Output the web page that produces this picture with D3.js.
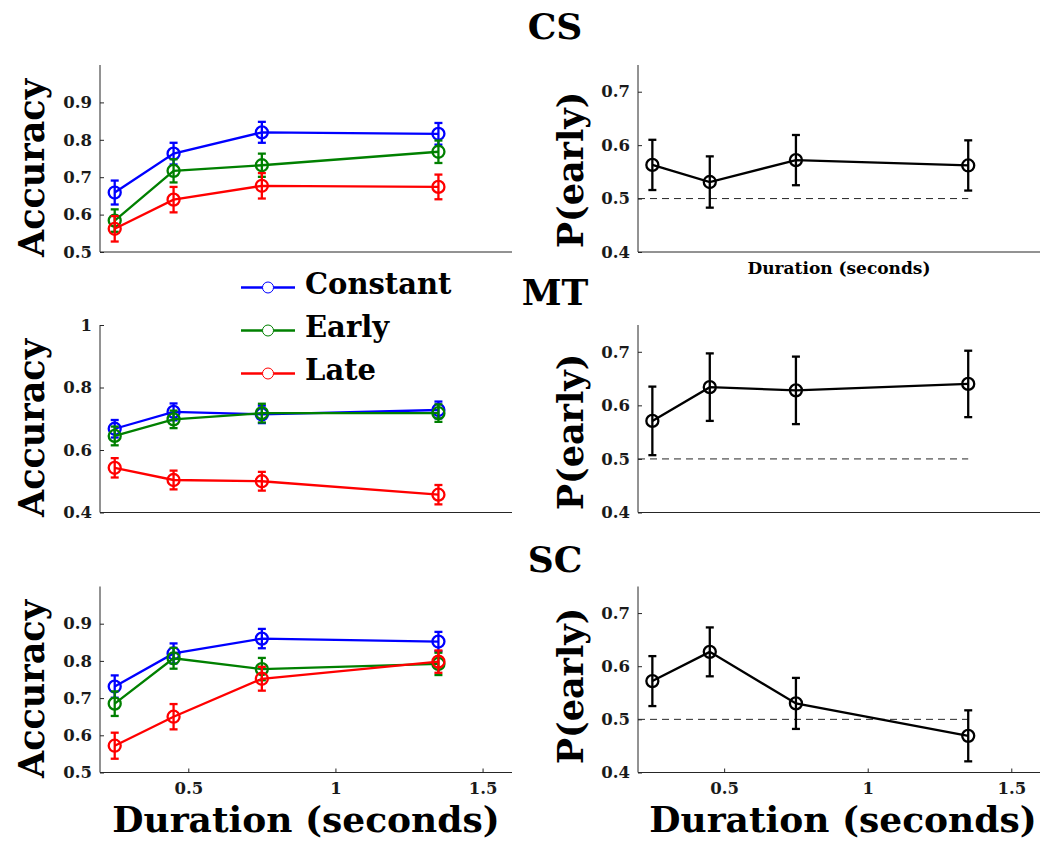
<!DOCTYPE html>
<html>
<head>
<meta charset="utf-8">
<script src="https://cdn.jsdelivr.net/npm/d3@7"></script>
<style>
  body { margin: 0; background: #fff; }
  svg { display: block; font-family: "DejaVu Serif", serif; font-weight: bold; }
</style>
</head>
<body>
<svg id="fig" width="1056" height="843"></svg>
<script>
// durations on the x axis (seconds)
const durations = [0.25, 0.45, 0.75, 1.35];
const conditions = ['Constant', 'Early', 'Late'];
const colors = ['#0000ff', '#008000', '#ff0000'];
const groups = ['CS', 'MT', 'SC'];

// accuracy, one row per condition (Constant, Early, Late)
const csAccuracy = [[0.659, 0.763, 0.820, 0.816], [0.584, 0.717, 0.732, 0.768], [0.562, 0.640, 0.677, 0.674]];
const csAccuracyErr = [[0.032, 0.029, 0.028, 0.029], [0.030, 0.031, 0.031, 0.030], [0.034, 0.034, 0.034, 0.033]];
const mtAccuracy = [[0.668, 0.722, 0.714, 0.728], [0.645, 0.698, 0.718, 0.718], [0.543, 0.504, 0.500, 0.457]];
const mtAccuracyErr = [[0.028, 0.027, 0.028, 0.027], [0.030, 0.028, 0.030, 0.028], [0.031, 0.030, 0.030, 0.031]];
const scAccuracy = [[0.731, 0.820, 0.860, 0.852], [0.685, 0.807, 0.778, 0.792], [0.572, 0.650, 0.752, 0.798]];
const scAccuracyErr = [[0.030, 0.027, 0.026, 0.026], [0.033, 0.028, 0.030, 0.030], [0.035, 0.034, 0.032, 0.030]];

// probability of choosing "early"
const csPEarly = [0.563, 0.531, 0.572, 0.562];
const csPEarlyErr = [0.047, 0.048, 0.047, 0.047];
const mtPEarly = [0.571, 0.634, 0.628, 0.640];
const mtPEarlyErr = [0.064, 0.063, 0.063, 0.062];
const scPEarly = [0.572, 0.627, 0.530, 0.469];
const scPEarlyErr = [0.047, 0.046, 0.048, 0.048];

// tick values
const xTicks = [0.5, 1, 1.5];
const accTicks = [0.5, 0.6, 0.7, 0.8, 0.9];
const accTicksMT = [0.4, 0.6, 0.8, 1];
const pTicks = [0.4, 0.5, 0.6, 0.7];

const svg = d3.select('#fig');
const axisColor = '#262626';

class Panel {
    constructor(config){
        this.config = config;
        this.init();
    }

    init(){
        let self = this;
        const c = self.config;

        self.xscale = d3.scaleLinear().domain([0.2, 1.6]).range([c.left, c.right]);
        self.yscale = d3.scaleLinear().domain(c.ydomain).range([c.bottom, c.top]);

        self.g = svg.append('g');

        // y axis, ticks pointing inward
        const yaxis = d3.axisLeft(self.yscale)
            .tickValues(c.yticks)
            .tickSize(-4)
            .tickPadding(8)
            .tickFormat(d => d === 1 ? '1' : d3.format('.1f')(d));
        const yg = self.g.append('g')
            .attr('transform', `translate(${c.left},0)`)
            .call(yaxis);
        yg.select('.domain').attr('d', `M0,${c.top}V${c.bottom}`);

        // x axis
        const xaxis = d3.axisBottom(self.xscale)
            .tickValues(c.showX ? xTicks : [])
            .tickSize(-4)
            .tickPadding(10)
            .tickFormat(d3.format('~g'));
        const xg = self.g.append('g')
            .attr('transform', `translate(0,${c.bottom})`)
            .call(xaxis);
        xg.select('.domain').attr('d', `M${c.left},0H${c.right}`);

        self.g.selectAll('.domain, .tick line')
            .attr('stroke', axisColor).attr('stroke-width', 1);
        self.g.selectAll('.tick text')
            .attr('fill', '#1a1a1a')
            .style('font-size', '16.5px')
            .style('font-family', '"DejaVu Serif", serif')
            .style('font-weight', 'bold');

        // y label
        self.g.append('text')
            .attr('transform', `translate(${c.ylabelX},${c.ylabelY}) rotate(-90)`)
            .attr('text-anchor', 'middle')
            .style('font-size', '35px')
            .text(c.ylabel);

        if (c.refLine !== undefined) {
            self.g.append('line')
                .attr('x1', self.xscale(0.2))
                .attr('x2', self.xscale(d3.max(durations)))
                .attr('y1', self.yscale(c.refLine))
                .attr('y2', self.yscale(c.refLine))
                .attr('stroke', axisColor)
                .attr('stroke-width', 1)
                .attr('stroke-dasharray', '7,5');
        }
    }

    series(values, errs, color){
        let self = this;
        const pts = durations.map((d, i) => ({x: d, y: values[i], e: errs[i]}));
        const g = self.g.append('g')
            .attr('stroke', color)
            .attr('fill', 'none')
            .attr('stroke-width', 2.3);

        g.append('path')
            .datum(pts)
            .attr('d', d3.line().x(d => self.xscale(d.x)).y(d => self.yscale(d.y)));

        const cap = 4;
        const eb = g.selectAll('g.err').data(pts).enter().append('g');
        eb.append('line')
            .attr('x1', d => self.xscale(d.x)).attr('x2', d => self.xscale(d.x))
            .attr('y1', d => self.yscale(d.y - d.e)).attr('y2', d => self.yscale(d.y + d.e));
        eb.append('line')
            .attr('x1', d => self.xscale(d.x) - cap).attr('x2', d => self.xscale(d.x) + cap)
            .attr('y1', d => self.yscale(d.y + d.e)).attr('y2', d => self.yscale(d.y + d.e));
        eb.append('line')
            .attr('x1', d => self.xscale(d.x) - cap).attr('x2', d => self.xscale(d.x) + cap)
            .attr('y1', d => self.yscale(d.y - d.e)).attr('y2', d => self.yscale(d.y - d.e));
        eb.append('circle')
            .attr('cx', d => self.xscale(d.x))
            .attr('cy', d => self.yscale(d.y))
            .attr('r', 6);
    }
}

const rows = [
    {top: 65, bottom: 252, acc: csAccuracy, accErr: csAccuracyErr, accDomain: [0.5, 1], accTicks: accTicks,
     p: csPEarly, pErr: csPEarlyErr, titleY: 39, accLabelY: 168, pLabelY: 170},
    {top: 325, bottom: 512.5, acc: mtAccuracy, accErr: mtAccuracyErr, accDomain: [0.4, 1], accTicks: accTicksMT,
     p: mtPEarly, pErr: mtPEarlyErr, titleY: 305, accLabelY: 428, pLabelY: 432},
    {top: 586.5, bottom: 772.5, acc: scAccuracy, accErr: scAccuracyErr, accDomain: [0.5, 1], accTicks: accTicks,
     p: scPEarly, pErr: scPEarlyErr, titleY: 572, accLabelY: 689, pLabelY: 686}
];

rows.forEach((r, ri) => {
    const last = ri === rows.length - 1;

    const left = new Panel({
        left: 100, right: 512, top: r.top, bottom: r.bottom,
        ydomain: r.accDomain, yticks: r.accTicks, showX: last,
        ylabel: 'Accuracy', ylabelX: 44, ylabelY: r.accLabelY
    });
    conditions.forEach((cond, ci) => left.series(r.acc[ci], r.accErr[ci], colors[ci]));

    const right = new Panel({
        left: 638, right: 1040, top: r.top, bottom: r.bottom,
        ydomain: [0.4, 0.75], yticks: pTicks, showX: last,
        ylabel: 'P(early)', ylabelX: 583, ylabelY: r.pLabelY, refLine: 0.5
    });
    right.series(r.p, r.pErr, '#000');

    svg.append('text')
        .attr('x', 555).attr('y', r.titleY)
        .attr('text-anchor', 'middle')
        .style('font-size', '36px')
        .text(groups[ri]);
});

// x labels
svg.append('text')
    .attr('x', 839).attr('y', 274)
    .attr('text-anchor', 'middle')
    .style('font-size', '17px')
    .text('Duration (seconds)');
svg.append('text')
    .attr('x', 306).attr('y', 832)
    .attr('text-anchor', 'middle')
    .style('font-size', '36px')
    .text('Duration (seconds)');
svg.append('text')
    .attr('x', 843).attr('y', 832)
    .attr('text-anchor', 'middle')
    .style('font-size', '36px')
    .text('Duration (seconds)');

// legend
const legend = svg.append('g');
conditions.forEach((cond, i) => {
    const y = 287.5 + i * 43;
    legend.append('line')
        .attr('x1', 241).attr('x2', 295).attr('y1', y).attr('y2', y)
        .attr('stroke', colors[i]).attr('stroke-width', 2.5);
    legend.append('circle')
        .attr('cx', 268).attr('cy', y).attr('r', 5.5)
        .attr('fill', '#fff').attr('stroke', colors[i]).attr('stroke-width', 1);
    legend.append('text')
        .attr('x', 305).attr('y', y + 6.5)
        .style('font-size', '29px')
        .text(cond);
});
</script>
</body>
</html>
